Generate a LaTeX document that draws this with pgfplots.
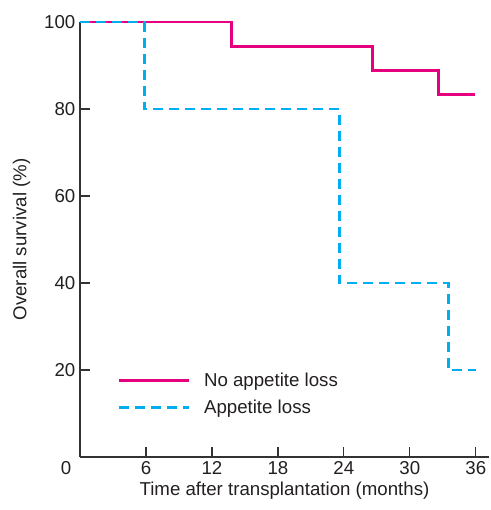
\documentclass[border=0pt]{standalone}
\usepackage{pgfplots}
\pgfplotsset{compat=1.18}
\usepackage{fontspec}
\setmainfont{Liberation Sans}
\definecolor{kmpink}{HTML}{E6007E}
\definecolor{kmblue}{HTML}{00AEEF}
\definecolor{inkgrey}{HTML}{231F20}
\begin{document}
\begin{tikzpicture}[x=1pt,y=1pt]
% fixed page frame: 489x510 px at 0.75pt per px
\path (-60,-39.75) rectangle (306.75,342.75);
\begin{axis}[
    at={(0,0)},anchor=origin,
    scale only axis,
    width=306.75pt,
    height=326.25pt,
    xmin=0, xmax=37.2,
    ymin=0, ymax=100,
    axis lines=left,
    axis line style={-,line width=0.9pt,black!80},
    xtick={6,12,18,24,30,36},
    ytick={20,40,60,80,100},
    tick align=inside,
    major tick length=7.5pt,
    tick style={line width=0.9pt,black!80},
    ticklabel style={font=\fontsize{14}{16}\selectfont,text=inkgrey},
    /pgf/number format/assume math mode=true,
    xlabel={Time after transplantation (months)},
    ylabel={Overall survival (\%)},
    label style={font=\fontsize{14}{16}\selectfont,text=inkgrey},
    xlabel style={at={(axis description cs:0.5,-0.077)},anchor=center},
    ylabel style={at={(axis description cs:-0.143,0.5)},anchor=center},
    clip=false,
    legend style={draw=none,fill=none,at={(0.082,0.207)},anchor=north west,
        font=\fontsize{14}{16}\selectfont,text=inkgrey,row sep=5pt},
    legend cell align=left,
    legend image code/.code={\draw[#1] (0pt,0pt) -- (52.5pt,0pt);},
    legend style={nodes={inner xsep=10pt}},
]
\addplot[const plot,color=kmpink,line width=2.2pt] coordinates {
    (0,100) (13.75,94.4) (26.6,88.9) (32.6,83.3) (35.9,83.3)
};
\addlegendentry{No appetite loss}
\addplot[const plot,color=kmblue,line width=2.2pt,dash pattern=on 7.5pt off 4.5pt] coordinates {
    (0,100) (5.85,80) (23.6,40) (33.5,20) (36,20)
};
\addlegendentry{Appetite loss}
\node[anchor=center,font=\fontsize{14}{16}\selectfont,text=inkgrey,inner sep=0pt] at (rel axis cs:0,0) [xshift=-10.5pt,yshift=-8.5pt] {0};
\end{axis}
\end{tikzpicture}
\end{document}
